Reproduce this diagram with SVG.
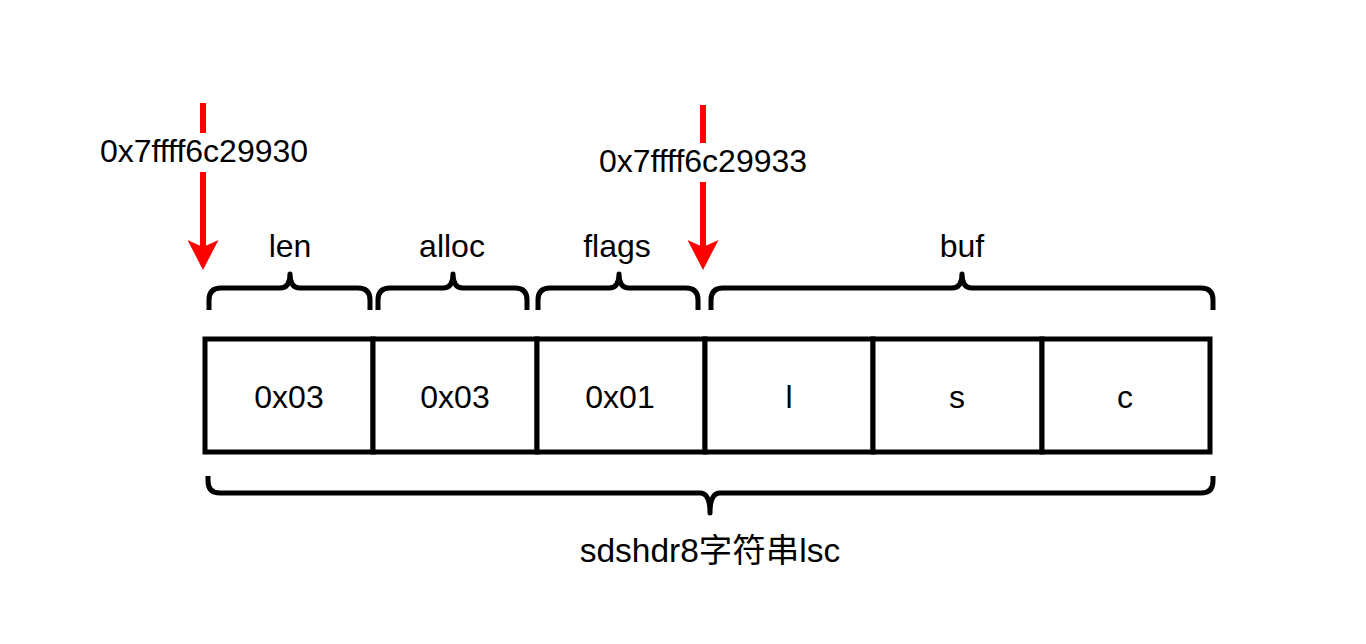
<svg xmlns="http://www.w3.org/2000/svg" width="1366" height="644" viewBox="0 0 1366 644">
  <style>
    .t { font-family: "Liberation Sans", Arial, "Noto Sans CJK SC", sans-serif; font-size: 32px; fill: #000; text-anchor: middle; }
    .big { font-size: 33.5px; }
    .cell { fill: #fff; stroke: #000; stroke-width: 5; }
    .brace { fill: none; stroke: #000; stroke-width: 5; stroke-linejoin: round; }
    .ptr { fill: none; stroke: #ff0000; stroke-width: 6; }
  </style>
  <defs>
    <marker id="ah" markerUnits="userSpaceOnUse" viewBox="0 0 30 31" markerWidth="30" markerHeight="31" refX="10" refY="15.5" orient="auto">
      <path d="M0,0 L30,15.5 L0,31 L7,15.5 Z" fill="#ff0000"/>
    </marker>
  </defs>
  <rect width="1366" height="644" fill="#fff"/>

  <g id="cells">
    <g id="cell-len"><rect class="cell" x="205" y="339" width="168" height="113"/><text class="t" x="289" y="408">0x03</text></g>
    <g id="cell-alloc"><rect class="cell" x="373" y="339" width="164" height="113"/><text class="t" x="455" y="408">0x03</text></g>
    <g id="cell-flags"><rect class="cell" x="537" y="339" width="168" height="113"/><text class="t" x="620" y="408">0x01</text></g>
    <g id="cell-l"><rect class="cell" x="705" y="339" width="168" height="113"/><text class="t" x="789" y="408">l</text></g>
    <g id="cell-s"><rect class="cell" x="873" y="339" width="169" height="113"/><text class="t" x="957" y="408">s</text></g>
    <g id="cell-c"><rect class="cell" x="1042" y="339" width="168" height="113"/><text class="t" x="1125" y="408">c</text></g>
  </g>

  <g id="brace-len">
    <path class="brace" d="M209,310 L209,300 Q209,288 221,288 L280,288 Q290,288 290,274 Q290,288 300,288 L358,288 Q370,288 370,300 L370,310"/>
    <text class="t" x="290" y="257">len</text>
  </g>
  <g id="brace-alloc">
    <path class="brace" d="M378,310 L378,300 Q378,288 390,288 L443,288 Q453,288 453,274 Q453,288 463,288 L515,288 Q527,288 527,300 L527,310"/>
    <text class="t" x="452" y="257">alloc</text>
  </g>
  <g id="brace-flags">
    <path class="brace" d="M538,310 L538,300 Q538,288 550,288 L609,288 Q619,288 619,274 Q619,288 629,288 L686,288 Q698,288 698,300 L698,310"/>
    <text class="t" x="617" y="257">flags</text>
  </g>
  <g id="brace-buf">
    <path class="brace" d="M711,310 L711,300 Q711,288 723,288 L952,288 Q962,288 962,274 Q962,288 972,288 L1201,288 Q1213,288 1213,300 L1213,310"/>
    <text class="t" x="962" y="257">buf</text>
  </g>
  <g id="brace-total">
    <path class="brace" d="M208,476 L208,481 Q208,493 220,493 L700,493 Q710,493 710,513 Q710,493 720,493 L1201,493 Q1213,493 1213,481 L1213,476"/>
    <text class="t big" x="710" y="562">sdshdr8字符串lsc</text>
  </g>

  <g id="connectors">
    <g id="ptr-1">
      <path class="ptr" d="M203,103 V133 M203,172 V250" marker-end="url(#ah)"/>
      <text class="t" x="204" y="162">0x7ffff6c29930</text>
    </g>
    <g id="ptr-2">
      <path class="ptr" d="M703,105 V143 M703,182 V250" marker-end="url(#ah)"/>
      <text class="t" x="703" y="172">0x7ffff6c29933</text>
    </g>
  </g>
</svg>
